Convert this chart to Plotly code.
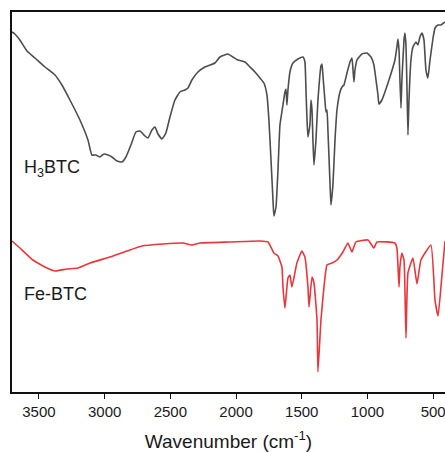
import plotly.graph_objects as go

# H3BTC spectrum (wavenumber cm-1, transmittance a.u.)
h3btc_wn = [3705, 3683, 3645, 3591, 3530, 3454, 3378, 3325, 3264, 3188, 3127, 3097, 3066, 3036,
            3005, 2975, 2944, 2906, 2868, 2838, 2800, 2762, 2731, 2693, 2670, 2640, 2617, 2594,
            2564, 2534, 2503, 2465, 2427, 2389, 2366, 2336, 2290, 2237, 2199,
            2161, 2123, 2062, 2024, 1986, 1932, 1894, 1856, 1818, 1788, 1765, 1750, 1734, 1719,
            1712, 1696, 1681, 1666, 1643, 1628, 1620, 1613, 1605, 1590, 1567, 1529, 1491, 1476,
            1468, 1460, 1453, 1438, 1430, 1422, 1415, 1407, 1392, 1377, 1362, 1354, 1346, 1339,
            1324, 1316, 1308, 1301, 1286, 1278, 1263, 1247, 1232, 1209, 1194, 1179, 1156, 1133,
            1118, 1110, 1103, 1095, 1080, 1042, 1004, 973, 951, 935, 920, 913, 890, 867, 829,
            791, 776, 768, 760, 753, 745, 738, 722, 715, 707, 699, 692, 684, 669, 654, 631, 616,
            601, 585, 570, 555, 540, 524, 501, 486, 463, 441, 410]
h3btc_t = [360, 358, 352, 341, 334, 325, 317, 307, 292, 272, 252, 237, 237, 235,
           238, 237, 235, 231, 230, 235, 247, 260, 261, 256, 254, 262, 265, 258,
           253, 259, 275, 292, 300, 302, 304, 312, 320, 325, 327,
           329, 335, 338, 335, 332, 330, 325, 320, 314, 309, 297, 272, 232, 192,
           176, 185, 222, 267, 287, 300, 303, 287, 302, 320, 329, 333, 335, 330,
           302, 272, 255, 267, 292, 282, 252, 227, 252, 292, 317, 326, 328, 317,
           292, 280, 282, 262, 212, 187, 207, 252, 282, 300, 305, 307, 319, 330,
           334, 322, 310, 322, 332, 338, 339, 335, 327, 312, 297, 288, 292, 300, 315,
           332, 345, 353, 342, 312, 284, 312, 352, 359, 347, 302, 257, 292, 332, 345, 350, 347,
           355, 359, 352, 322, 314, 332, 354, 364, 367, 367, 370]

# Fe-BTC spectrum
febtc_wn = [3705, 3645, 3546, 3439, 3378, 3287, 3203, 3112, 2960, 2830, 2716, 2556, 2404, 2336,
            2275, 2046, 1818, 1757, 1712, 1681, 1651, 1643, 1628, 1605, 1590, 1575, 1537, 1499,
            1476, 1453, 1445, 1422, 1407, 1384, 1377, 1354, 1331, 1308, 1270, 1232, 1187, 1149,
            1118, 1088, 996, 951, 928, 791, 776, 760, 753, 738, 722, 707, 692, 654, 623, 593,
            517, 486, 463, 433, 410]
febtc_t = [151, 144, 132, 124, 121, 123, 124, 129, 135, 141, 146, 148, 149, 147,
           149, 150, 151, 150, 139, 136, 125, 105, 84, 114, 117, 105, 129, 141,
           135, 105, 85, 115, 109, 72, 20, 72, 105, 127, 129, 132, 140, 149,
           140, 150, 152, 144, 150, 149, 144, 105, 125, 139, 132, 54, 119, 134, 108, 132,
           147, 92, 76, 117, 151]

series_names = ["H<sub>3</sub>BTC", "Fe-BTC"]
x_ticks = [3500, 3000, 2500, 2000, 1500, 1000, 500]

FONT = "Liberation Sans, Arial, sans-serif"

fig = go.Figure()
fig.add_trace(go.Scatter(x=h3btc_wn, y=h3btc_t, mode="lines",
                         line=dict(color="#4d4d4d", width=1.6, shape="spline", smoothing=0.4),
                         showlegend=False))
fig.add_trace(go.Scatter(x=febtc_wn, y=febtc_t, mode="lines",
                         line=dict(color="#e8363c", width=1.6, shape="spline", smoothing=0.4),
                         showlegend=False))

fig.add_annotation(x=3629, y=224, text=series_names[0], showarrow=False,
                   xanchor="left", yanchor="middle", font=dict(family=FONT, size=18, color="#1a1a1a"))
fig.add_annotation(x=3629, y=98, text=series_names[1], showarrow=False,
                   xanchor="left", yanchor="middle", font=dict(family=FONT, size=18, color="#1a1a1a"))

fig.update_layout(
    width=445, height=452,
    margin=dict(l=12, r=0, t=12, b=60),
    paper_bgcolor="white", plot_bgcolor="white",
    font=dict(family=FONT, color="#1a1a1a"),
    xaxis=dict(range=[3705, 410], tickvals=x_ticks, ticks="outside", ticklen=5,
               tickwidth=1.3, tickcolor="#111", showline=True, linecolor="#111", linewidth=1.5,
               mirror=True, showgrid=False, zeroline=False, automargin=False,
               ticklabeloverflow="allow",
               tickfont=dict(family=FONT, size=15, color="#1a1a1a"),
               title=dict(text="Wavenumber (cm<sup>-1</sup>)", standoff=16,
                          font=dict(family=FONT, size=19, color="#1a1a1a"))),
    yaxis=dict(range=[0, 380], showticklabels=False, ticks="", showline=True, automargin=False,
               linecolor="#111", linewidth=1.5, mirror=False, showgrid=False, zeroline=False),
)

fig.write_html("out.html", config={"displayModeBar": False},
               post_script="document.body.style.margin='0';document.body.style.overflow='hidden';")
